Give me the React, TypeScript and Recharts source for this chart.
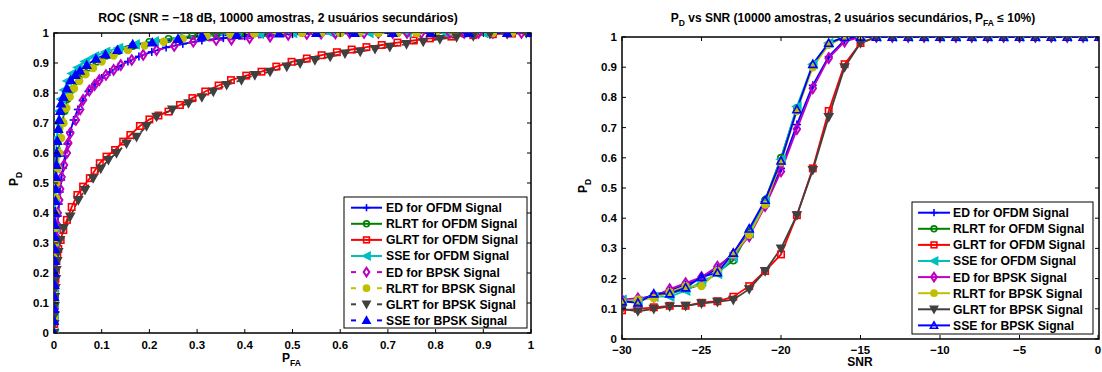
import React from "react";
import { LineChart, Line, XAxis, YAxis, ReferenceArea } from "recharts";

const FONT = "'Liberation Sans', Arial, Helvetica, sans-serif";

// ---- ROC curves, [P_FA, P_D] ----
const edOfdmRoc = [
  [0, 0], [0.0005, 0.03], [0.001, 0.07], [0.0015, 0.11], [0.002, 0.15], [0.0025, 0.19], [0.003, 0.23],
  [0.004, 0.27], [0.005, 0.31], [0.006, 0.35], [0.008, 0.39], [0.01, 0.43], [0.012, 0.47], [0.015, 0.51],
  [0.019, 0.55], [0.023, 0.59], [0.028, 0.63], [0.034, 0.67], [0.041, 0.71], [0.05, 0.745], [0.06, 0.775],
  [0.072, 0.805], [0.086, 0.83], [0.1, 0.85], [0.117, 0.87], [0.135, 0.888], [0.155, 0.905], [0.178, 0.922],
  [0.205, 0.937], [0.235, 0.952], [0.27, 0.964], [0.31, 0.975], [0.355, 0.983], [0.4, 0.989], [0.45, 0.993],
  [0.5, 0.996], [0.56, 0.998], [0.62, 0.999], [0.68, 1], [0.74, 1], [0.8, 1], [0.86, 1], [0.92, 1], [1, 1],
];
const rlrtOfdmRoc = [
  [0, 0], [0, 0.05], [0.0005, 0.1], [0.0005, 0.15], [0.001, 0.2], [0.0015, 0.25], [0.0015, 0.3], [0.002, 0.35],
  [0.0025, 0.4], [0.003, 0.45], [0.004, 0.5], [0.006, 0.55], [0.009, 0.6], [0.013, 0.65], [0.017, 0.7],
  [0.022, 0.74], [0.028, 0.78], [0.036, 0.81], [0.046, 0.84], [0.058, 0.865], [0.072, 0.885], [0.09, 0.905],
  [0.11, 0.925], [0.135, 0.94], [0.165, 0.957], [0.2, 0.97], [0.24, 0.98], [0.29, 0.99], [0.34, 0.995],
  [0.39, 0.998], [0.44, 1], [0.48, 1], [0.52, 1], [0.56, 1], [0.6, 1], [0.64, 1], [0.68, 1], [0.72, 1],
  [0.76, 1], [0.8, 1], [0.84, 1], [0.88, 1], [0.92, 1], [0.96, 1], [1, 1],
];
const glrtOfdmRoc = [
  [0, 0], [0.0005, 0.03], [0.001, 0.06], [0.0015, 0.09], [0.002, 0.12], [0.0025, 0.15], [0.003, 0.18],
  [0.004, 0.21], [0.005, 0.24], [0.007, 0.26], [0.009, 0.28], [0.014, 0.31], [0.0195, 0.343], [0.027, 0.377],
  [0.037, 0.42], [0.049, 0.46], [0.061, 0.488], [0.075, 0.516], [0.085, 0.54], [0.096, 0.566], [0.11, 0.588],
  [0.128, 0.61], [0.145, 0.638], [0.16, 0.66], [0.18, 0.69], [0.2, 0.712], [0.219, 0.725], [0.24, 0.738],
  [0.264, 0.76], [0.29, 0.783], [0.317, 0.805], [0.345, 0.825], [0.371, 0.843], [0.403, 0.858], [0.435, 0.871],
  [0.466, 0.888], [0.498, 0.904], [0.53, 0.915], [0.561, 0.926], [0.593, 0.936], [0.624, 0.945], [0.655, 0.953],
  [0.687, 0.96], [0.72, 0.968], [0.754, 0.975], [0.788, 0.982], [0.833, 0.988], [0.879, 0.993], [0.92, 0.996],
  [0.96, 0.998], [1, 1],
];
const sseOfdmRoc = [
  [0, 0], [0, 0.05], [0.0005, 0.1], [0.0005, 0.15], [0.001, 0.2], [0.001, 0.25], [0.0015, 0.3], [0.0015, 0.35],
  [0.002, 0.4], [0.0025, 0.45], [0.003, 0.5], [0.003, 0.55], [0.004, 0.6], [0.006, 0.65], [0.008, 0.7],
  [0.011, 0.74], [0.015, 0.78], [0.021, 0.81], [0.028, 0.84], [0.038, 0.865], [0.05, 0.885], [0.065, 0.905],
  [0.085, 0.922], [0.108, 0.937], [0.135, 0.95], [0.17, 0.962], [0.21, 0.972], [0.26, 0.982], [0.31, 0.99],
  [0.37, 0.995], [0.43, 0.998], [0.5, 1], [0.58, 1], [0.66, 1], [0.74, 1], [0.82, 1], [0.9, 1], [1, 1],
];
const edBpskRoc = [
  [0, 0], [0.0005, 0.04], [0.001, 0.08], [0.0015, 0.12], [0.002, 0.16], [0.0025, 0.2], [0.003, 0.24],
  [0.004, 0.28], [0.005, 0.32], [0.007, 0.36], [0.008, 0.4], [0.011, 0.443], [0.013, 0.48], [0.016, 0.52],
  [0.021, 0.56], [0.027, 0.6], [0.03, 0.633], [0.034, 0.666], [0.046, 0.71], [0.055, 0.745], [0.061, 0.777],
  [0.074, 0.808], [0.085, 0.826], [0.095, 0.843], [0.109, 0.86], [0.125, 0.877], [0.14, 0.893], [0.163, 0.91],
  [0.187, 0.927], [0.215, 0.943], [0.252, 0.957], [0.292, 0.971], [0.34, 0.977], [0.372, 0.978], [0.41, 0.983],
  [0.453, 0.988], [0.491, 0.994], [0.53, 0.997], [0.56, 0.998], [0.59, 0.999], [0.62, 1], [0.65, 1], [0.68, 1],
  [0.71, 1], [0.74, 1], [0.77, 1], [0.8, 1], [0.83, 1], [0.86, 1], [0.89, 1], [0.92, 1], [0.95, 1], [0.98, 1], [1, 1],
];
const rlrtBpskRoc = [
  [0, 0], [0, 0.05], [0.0005, 0.1], [0.001, 0.15], [0.001, 0.2], [0.0015, 0.25], [0.002, 0.3], [0.0025, 0.35],
  [0.003, 0.4], [0.004, 0.45], [0.005, 0.5], [0.008, 0.55], [0.011, 0.6], [0.015, 0.65], [0.02, 0.7],
  [0.026, 0.75], [0.033, 0.787], [0.042, 0.815], [0.053, 0.84], [0.066, 0.862], [0.082, 0.883], [0.1, 0.905],
  [0.125, 0.925], [0.155, 0.943], [0.19, 0.958], [0.23, 0.971], [0.27, 0.981], [0.32, 0.99], [0.37, 0.995],
  [0.42, 0.998], [0.47, 1], [0.52, 1], [0.56, 1], [0.6, 1], [0.64, 1], [0.68, 1], [0.72, 1], [0.76, 1],
  [0.8, 1], [0.84, 1], [0.88, 1], [0.92, 1], [0.96, 1], [1, 1],
];
const glrtBpskRoc = [
  [0, 0], [0.0005, 0.03], [0.001, 0.06], [0.0015, 0.09], [0.002, 0.12], [0.003, 0.15], [0.004, 0.18],
  [0.005, 0.21], [0.007, 0.24], [0.009, 0.27], [0.0126, 0.31], [0.02, 0.35], [0.034, 0.388], [0.051, 0.443],
  [0.065, 0.477], [0.082, 0.516], [0.098, 0.548], [0.114, 0.577], [0.131, 0.6], [0.152, 0.632], [0.173, 0.654],
  [0.194, 0.69], [0.215, 0.721], [0.248, 0.745], [0.282, 0.766], [0.31, 0.786], [0.334, 0.805], [0.362, 0.827],
  [0.393, 0.843], [0.421, 0.86], [0.453, 0.871], [0.488, 0.888], [0.516, 0.899], [0.547, 0.91], [0.579, 0.921],
  [0.61, 0.932], [0.642, 0.938], [0.673, 0.947], [0.704, 0.954], [0.739, 0.963], [0.774, 0.971], [0.809, 0.98],
  [0.844, 0.986], [0.879, 0.99], [0.914, 0.997], [0.95, 0.998], [0.99, 1], [1, 1],
];
const sseBpskRoc = [
  [0, 0], [0, 0.04], [0.0005, 0.08], [0.0005, 0.12], [0.001, 0.16], [0.001, 0.2], [0.0015, 0.24], [0.0015, 0.28],
  [0.002, 0.32], [0.002, 0.36], [0.0025, 0.4], [0.003, 0.44], [0.0035, 0.48], [0.004, 0.52], [0.005, 0.56],
  [0.0056, 0.6], [0.007, 0.64], [0.009, 0.68], [0.011, 0.71], [0.013, 0.74], [0.0147, 0.765], [0.0196, 0.787],
  [0.027, 0.815], [0.035, 0.843], [0.045, 0.86], [0.0545, 0.874], [0.0685, 0.893], [0.088, 0.914],
  [0.108, 0.928], [0.133, 0.943], [0.165, 0.962], [0.206, 0.968], [0.26, 0.98], [0.31, 0.99], [0.383, 0.993],
  [0.472, 0.998], [0.55, 1], [0.63, 1], [0.71, 1], [0.79, 1], [0.87, 1], [0.95, 1], [1, 1],
];

// ---- P_D vs SNR, right panel ----
const snrValues = [
  -30, -29, -28, -27, -26, -25, -24, -23, -22, -21, -20, -19, -18, -17, -16, -15,
  -14, -13, -12, -11, -10, -9, -8, -7, -6, -5, -4, -3, -2, -1, 0,
];
const edOfdmPd = [0.125, 0.13, 0.145, 0.16, 0.18, 0.2, 0.235, 0.285, 0.35, 0.45, 0.565, 0.71, 0.84, 0.935, 0.99, 1, 1, 1, 1, 1, 1, 1, 1, 1, 1, 1, 1, 1, 1, 1, 1];
const rlrtOfdmPd = [0.13, 0.125, 0.145, 0.15, 0.165, 0.18, 0.22, 0.26, 0.355, 0.46, 0.6, 0.765, 0.905, 0.975, 1, 1, 1, 1, 1, 1, 1, 1, 1, 1, 1, 1, 1, 1, 1, 1, 1];
const glrtOfdmPd = [0.095, 0.1, 0.105, 0.11, 0.11, 0.12, 0.125, 0.14, 0.175, 0.225, 0.28, 0.41, 0.565, 0.755, 0.91, 0.98, 1, 1, 1, 1, 1, 1, 1, 1, 1, 1, 1, 1, 1, 1, 1];
const sseOfdmPd = [0.13, 0.125, 0.14, 0.14, 0.16, 0.19, 0.215, 0.27, 0.35, 0.455, 0.595, 0.77, 0.91, 0.98, 1, 1, 1, 1, 1, 1, 1, 1, 1, 1, 1, 1, 1, 1, 1, 1, 1];
const edBpskPd = [0.13, 0.135, 0.14, 0.165, 0.185, 0.205, 0.24, 0.28, 0.34, 0.44, 0.555, 0.695, 0.83, 0.93, 0.985, 1, 1, 1, 1, 1, 1, 1, 1, 1, 1, 1, 1, 1, 1, 1, 1];
const rlrtBpskPd = [0.125, 0.13, 0.135, 0.155, 0.175, 0.175, 0.225, 0.28, 0.345, 0.445, 0.585, 0.755, 0.9, 0.975, 1, 1, 1, 1, 1, 1, 1, 1, 1, 1, 1, 1, 1, 1, 1, 1, 1];
const glrtBpskPd = [0.1, 0.092, 0.1, 0.108, 0.11, 0.118, 0.123, 0.13, 0.165, 0.225, 0.3, 0.41, 0.56, 0.735, 0.9, 0.98, 1, 1, 1, 1, 1, 1, 1, 1, 1, 1, 1, 1, 1, 1, 1];
const sseBpskPd = [0.125, 0.12, 0.15, 0.15, 0.17, 0.205, 0.22, 0.285, 0.365, 0.46, 0.59, 0.76, 0.91, 0.98, 1, 1, 1, 1, 1, 1, 1, 1, 1, 1, 1, 1, 1, 1, 1, 1, 1];

const pfaTicks = [0, 0.1, 0.2, 0.3, 0.4, 0.5, 0.6, 0.7, 0.8, 0.9, 1];
const pdTicks = [0, 0.1, 0.2, 0.3, 0.4, 0.5, 0.6, 0.7, 0.8, 0.9, 1];
const snrTicks = [-30, -25, -20, -15, -10, -5, 0];

type Shape = "plus" | "circle" | "square" | "triLeft" | "diamond" | "dot" | "triDown" | "triUp";

const series = [
  { key: "edOfdm", name: "ED for OFDM Signal", color: "#0000ff", shape: "plus", bpsk: false, roc: edOfdmRoc, pd: edOfdmPd },
  { key: "rlrtOfdm", name: "RLRT for OFDM Signal", color: "#008000", shape: "circle", bpsk: false, roc: rlrtOfdmRoc, pd: rlrtOfdmPd },
  { key: "glrtOfdm", name: "GLRT for OFDM Signal", color: "#ff0000", shape: "square", bpsk: false, roc: glrtOfdmRoc, pd: glrtOfdmPd },
  { key: "sseOfdm", name: "SSE for OFDM Signal", color: "#00bfbf", shape: "triLeft", bpsk: false, roc: sseOfdmRoc, pd: sseOfdmPd },
  { key: "edBpsk", name: "ED for BPSK Signal", color: "#bf00bf", shape: "diamond", bpsk: true, roc: edBpskRoc, pd: edBpskPd },
  { key: "rlrtBpsk", name: "RLRT for BPSK Signal", color: "#bfbf00", shape: "dot", bpsk: true, roc: rlrtBpskRoc, pd: rlrtBpskPd },
  { key: "glrtBpsk", name: "GLRT for BPSK Signal", color: "#404040", shape: "triDown", bpsk: true, roc: glrtBpskRoc, pd: glrtBpskPd },
  { key: "sseBpsk", name: "SSE for BPSK Signal", color: "#0000ff", shape: "triUp", bpsk: true, roc: sseBpskRoc, pd: sseBpskPd },
];

const snrRows = snrValues.map((snr, i) => {
  const row: any = { snr };
  series.forEach((s) => (row[s.key] = s.pd[i]));
  return row;
});

const FILLED: Record<string, boolean> = { triLeft: true, dot: true, triDown: true, triUp: true };

function Marker({ shape, cx, cy, color, hollowTri, s = 4 }: { shape: Shape; cx: number; cy: number; color: string; hollowTri?: boolean; s?: number }) {
  if (cx == null || cy == null || isNaN(cx) || isNaN(cy)) return null;
  const filled = FILLED[shape] && !(hollowTri && shape === "triUp");
  const common = { stroke: color, strokeWidth: shape === "diamond" ? 2 : 1.6, fill: filled ? color : "none" };
  switch (shape) {
    case "plus":
      return (
        <g stroke={color} strokeWidth={1.6}>
          <line x1={cx - s} x2={cx + s} y1={cy} y2={cy} />
          <line x1={cx} x2={cx} y1={cy - s} y2={cy + s} />
        </g>
      );
    case "circle":
      return <circle cx={cx} cy={cy} r={s * 0.8} {...common} />;
    case "dot":
      return <circle cx={cx} cy={cy} r={s * 0.85} {...common} />;
    case "square":
      return <rect x={cx - s * 0.8} y={cy - s * 0.8} width={s * 1.6} height={s * 1.6} {...common} />;
    case "diamond":
      return <polygon points={`${cx},${cy - s * 1.2} ${cx + s * 0.8},${cy} ${cx},${cy + s * 1.2} ${cx - s * 0.8},${cy}`} {...common} />;
    case "triLeft":
      return <polygon points={`${cx - s},${cy} ${cx + s},${cy - s} ${cx + s},${cy + s}`} {...common} />;
    case "triDown":
      return <polygon points={`${cx - s},${cy - s * 0.8} ${cx + s},${cy - s * 0.8} ${cx},${cy + s}`} {...common} />;
    case "triUp":
    default:
      return <polygon points={`${cx - s},${cy + s * 0.8} ${cx + s},${cy + s * 0.8} ${cx},${cy - s}`} {...common} />;
  }
}

const tickText = { fontFamily: FONT, fontWeight: 700, fontSize: 11.5, fill: "#000" };

const makeXTick = (top: number, bottom: number, fmt: (v: number) => string, dy: number) => (props: any) => {
  const { x, payload } = props;
  return (
    <g>
      <line x1={x} x2={x} y1={bottom} y2={bottom - 4} stroke="#000" />
      <line x1={x} x2={x} y1={top} y2={top + 4} stroke="#000" />
      <text x={x} y={bottom + dy} textAnchor="middle" {...tickText}>{fmt(payload.value)}</text>
    </g>
  );
};

const makeYTick = (left: number, right: number) => (props: any) => {
  const { y, payload } = props;
  return (
    <g>
      <line x1={left} x2={left + 4} y1={y} y2={y} stroke="#000" />
      <line x1={right} x2={right - 4} y1={y} y2={y} stroke="#000" />
      <text x={left - 5} y={y + 4} textAnchor="end" {...tickText}>{String(payload.value)}</text>
    </g>
  );
};

const fmtSnr = (v: number) => (v < 0 ? `\u2212${-v}` : String(v));

function Legend({ x, y, w, h, rowY, lineX1, lineX2, textX, dashed, hollowTri }: any) {
  const mid = (lineX1 + lineX2) / 2;
  return (
    <g>
      <rect x={x} y={y} width={w} height={h} fill="#fff" stroke="#000" strokeWidth={1} />
      {series.map((s, i) => {
        const cy = rowY + i * 16.1;
        const isDash = dashed && s.bpsk;
        return (
          <g key={s.key}>
            {isDash ? (
              <g stroke={s.color} strokeWidth={2}>
                <line x1={lineX1} x2={lineX1 + 5} y1={cy} y2={cy} />
                <line x1={lineX2 - 5} x2={lineX2} y1={cy} y2={cy} />
              </g>
            ) : (
              <line x1={lineX1} x2={lineX2} y1={cy} y2={cy} stroke={s.color} strokeWidth={2} />
            )}
            <Marker shape={s.shape as Shape} cx={mid} cy={cy} color={s.color} hollowTri={hollowTri} s={3.6} />
            <text x={textX} y={cy + 4.4} fontFamily={FONT} fontWeight={700} fontSize={12.2} fill="#000">{s.name}</text>
          </g>
        );
      })}
    </g>
  );
}

export default function App() {
  const labelStyle = { fontFamily: FONT, fontWeight: 700, fill: "#000" };
  return (
    <div style={{ position: "absolute", left: 0, top: 0, width: 1102, height: 372, background: "#fff", overflow: "hidden" }}>
      <div style={{ position: "absolute", left: 0, top: 0 }}>
        <LineChart width={560} height={372} margin={{ top: 33, right: 29, bottom: 0, left: 0 }}>
          <XAxis type="number" dataKey="pfa" domain={[0, 1]} ticks={pfaTicks} height={39} axisLine={false} tickLine={false} tick={makeXTick(33, 333, (v) => String(v), 16)} allowDataOverflow />
          <YAxis type="number" domain={[0, 1]} ticks={pdTicks} width={54} axisLine={false} tickLine={false} tick={makeYTick(54, 531)} allowDataOverflow />
          <ReferenceArea x1={0} x2={1} y1={0} y2={1} fill="none" fillOpacity={0} stroke="#000" strokeWidth={1.5} />
          {series.map((s) => (
            <Line
              key={s.key}
              data={s.roc.map(([pfa, pd]) => ({ pfa, pd }))}
              dataKey="pd"
              type="linear"
              stroke={s.color}
              strokeWidth={1.8}
              strokeDasharray={s.bpsk ? "6 4" : undefined}
              isAnimationActive={false}
              dot={(p: any) => <Marker key={`${s.key}-r-${p.index}`} shape={s.shape as Shape} cx={p.cx} cy={p.cy} color={s.color} />}
              activeDot={false}
            />
          ))}
        </LineChart>
      </div>
      <div style={{ position: "absolute", left: 560, top: 0 }}>
        <LineChart width={542} height={372} data={snrRows} margin={{ top: 37, right: 3, bottom: 0, left: 0 }}>
          <XAxis type="number" dataKey="snr" domain={[-30, 0]} ticks={snrTicks} height={33} axisLine={false} tickLine={false} tick={makeXTick(37, 339, fmtSnr, 15)} allowDataOverflow />
          <YAxis type="number" domain={[0, 1]} ticks={pdTicks} width={62} axisLine={false} tickLine={false} tick={makeYTick(62, 539)} allowDataOverflow />
          <ReferenceArea x1={-30} x2={0} y1={0} y2={1} fill="none" fillOpacity={0} stroke="#000" strokeWidth={1.5} />
          {series.map((s) => (
            <Line
              key={s.key}
              dataKey={s.key}
              type="linear"
              stroke={s.color}
              strokeWidth={1.8}
              isAnimationActive={false}
              dot={(p: any) => <Marker key={`${s.key}-s-${p.index}`} shape={s.shape as Shape} cx={p.cx} cy={p.cy} color={s.color} hollowTri />}
              activeDot={false}
            />
          ))}
        </LineChart>
      </div>
      <svg width={1102} height={372} style={{ position: "absolute", left: 0, top: 0, pointerEvents: "none" }}>
        <text x={278} y={21.5} textAnchor="middle" fontSize={12.2} {...labelStyle}>
          ROC (SNR = {"\u2212"}18 dB, 10000 amostras, 2 usuários secundários)
        </text>
        <text x={853} y={21.5} textAnchor="middle" fontSize={12} {...labelStyle}>
          <tspan>P</tspan>
          <tspan dy={4} fontSize={8.5}>D</tspan>
          <tspan dy={-4}> vs SNR (10000 amostras, 2 usuários secundários, P</tspan>
          <tspan dy={4} fontSize={8.5}>FA</tspan>
          <tspan dy={-4}> {"\u2264"} 10%)</tspan>
        </text>
        <text transform="translate(18,186) rotate(-90)" fontSize={12} {...labelStyle}>
          <tspan>P</tspan>
          <tspan dy={4} fontSize={8.5}>D</tspan>
        </text>
        <text transform="translate(587,193) rotate(-90)" fontSize={12} {...labelStyle}>
          <tspan>P</tspan>
          <tspan dy={4} fontSize={8.5}>D</tspan>
        </text>
        <text x={282} y={362} fontSize={12} {...labelStyle}>
          <tspan>P</tspan>
          <tspan dy={4} fontSize={8.5}>FA</tspan>
        </text>
        <text x={860} y={366} textAnchor="middle" fontSize={12} {...labelStyle}>SNR</text>
        <Legend x={344} y={197} w={183} h={131} rowY={207.7} lineX1={351} lineX2={382} textX={386} dashed />
        <Legend x={912} y={202} w={181} h={132} rowY={212.7} lineX1={918} lineX2={950} textX={953} hollowTri />
      </svg>
    </div>
  );
}
